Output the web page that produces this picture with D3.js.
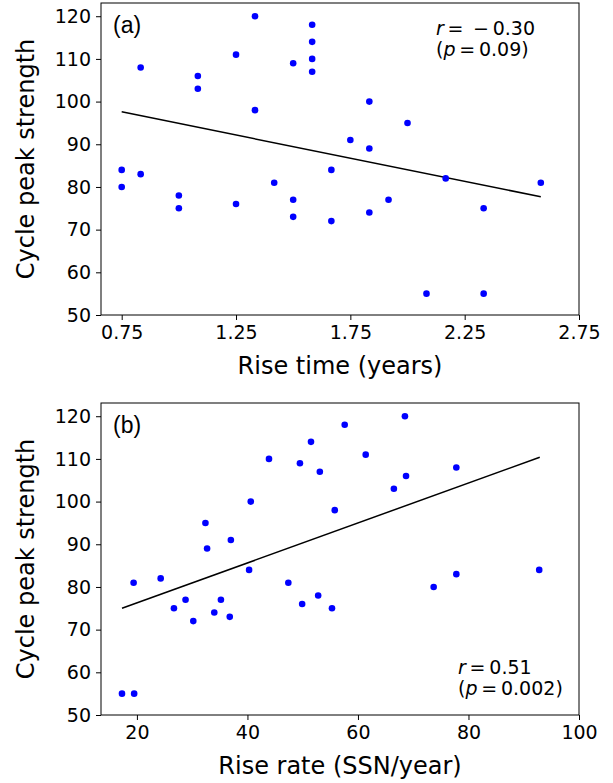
<!DOCTYPE html>
<html>
<head>
<meta charset="utf-8">
<script src="https://cdn.jsdelivr.net/npm/d3@7"></script>
<style>
 body { margin: 0; background: #fff; }
 text { font-family: "DejaVu Sans", sans-serif; fill: #000; }
</style>
</head>
<body>
<div id="chart"></div>
<script>
// panel (a): rise time vs cycle peak
var riseTime = [0.75, 0.75, 0.833, 0.833, 1.0, 1.0, 1.083, 1.083, 1.25, 1.25, 1.333, 1.333, 1.417,
  1.5, 1.5, 1.5, 1.583, 1.583, 1.583, 1.583, 1.667, 1.667, 1.75, 1.833, 1.833, 1.833,
  1.917, 2.0, 2.083, 2.167, 2.333, 2.333, 2.583];
var peakA = [84, 80, 108, 83, 78, 75, 106, 103, 111, 76, 120, 98, 81,
  109, 77, 73, 118, 114, 110, 107, 84, 72, 91, 100, 89, 74,
  77, 95, 55, 82, 75, 55, 81];
var fitA_x = [0.75, 2.583];
var fitA_y = [97.6, 77.7];

// panel (b): rise rate vs cycle peak
var riseRate = [17.3, 19.5, 19.4, 24.3, 26.7, 28.8, 30.2, 32.4, 32.7, 34.0, 35.2, 36.8, 37.0,
  40.3, 40.6, 43.9, 47.4, 49.5, 49.9, 51.5, 52.8, 53.1, 55.3, 55.8, 57.6,
  61.4, 66.5, 68.5, 68.7, 77.8, 77.8, 73.7, 92.8];
var peakB = [55, 55, 81, 82, 75, 77, 72, 95, 89, 74, 77, 73, 91,
  84, 100, 110, 81, 109, 76, 114, 78, 107, 75, 98, 118,
  111, 103, 120, 106, 108, 83, 80, 84];
var fitB_x = [17.3, 92.9];
var fitB_y = [75.0, 110.4];

var yTicks = [50, 60, 70, 80, 90, 100, 110, 120];
var xTicksA = [0.75, 1.25, 1.75, 2.25, 2.75];
var xTicksB = [20, 40, 60, 80, 100];

var W = 613, H = 783;
var left = 101, right = 579, plotH = 312;

var svg = d3.select("#chart").append("svg")
  .attr("width", W).attr("height", H);

function panel(top, xs, ys, fx, fy, xDomain, xTicks, xFmt, xLabel, tag, stats, statsY) {
  var x = d3.scaleLinear().domain(xDomain).range([left, right]);
  var y = d3.scaleLinear().domain([50, 123.1]).range([top + plotH, top]);
  var g = svg.append("g");

  var xa = g.append("g").attr("transform", "translate(0," + (top + plotH) + ")")
    .call(d3.axisBottom(x).tickValues(xTicks).tickFormat(xFmt).tickSizeOuter(0).tickSize(5).tickPadding(6));
  var ya = g.append("g").attr("transform", "translate(" + left + ",0)")
    .call(d3.axisLeft(y).tickValues(yTicks).tickSizeOuter(0).tickSize(5).tickPadding(5));
  [xa, ya].forEach(function(a){
    a.selectAll("text").style("font-size", "19px").style("font-family", "DejaVu Sans");
    a.selectAll("line").attr("stroke", "#000").attr("stroke-width", 1);
    a.select(".domain").remove();
  });

  // frame
  g.append("rect").attr("x", left).attr("y", top)
    .attr("width", right - left).attr("height", plotH)
    .attr("fill", "none").attr("stroke", "#000").attr("stroke-width", 1);

  // fit line
  g.append("line")
    .attr("x1", x(fx[0])).attr("y1", y(fy[0]))
    .attr("x2", x(fx[1])).attr("y2", y(fy[1]))
    .attr("stroke", "#000").attr("stroke-width", 1.5);

  g.selectAll("circle.pt").data(xs).enter().append("circle")
    .attr("class", "pt")
    .attr("cx", function(d){ return x(d); })
    .attr("cy", function(d, i){ return y(ys[i]); })
    .attr("r", 3.3)
    .attr("fill", "#0000ff");

  g.append("text").attr("x", 113).attr("y", top + 30)
    .style("font-family", "Liberation Sans, Arial, sans-serif")
    .style("font-size", "23px").text(tag);

  // stats text
  var t1 = g.append("text").attr("x", stats.x).attr("y", statsY[0]).style("font-size", "19px");
  t1.append("tspan").style("font-style", "italic").text("r");
  t1.append("tspan").text(stats.r);
  var t2 = g.append("text").attr("x", stats.x).attr("y", statsY[1]).style("font-size", "19px");
  t2.append("tspan").text("(");
  t2.append("tspan").style("font-style", "italic").text("p");
  t2.append("tspan").text(stats.p);

  g.append("text").attr("x", (left + right) / 2).attr("y", top + plotH + 59)
    .attr("text-anchor", "middle").style("font-size", "24px").text(xLabel);
  g.append("text")
    .attr("transform", "translate(34," + (top + plotH / 2) + ") rotate(-90)")
    .attr("text-anchor", "middle").style("font-size", "24px").text("Cycle peak strength");
}

panel(3, riseTime, peakA, fitA_x, fitA_y, [0.6595, 2.75], xTicksA, d3.format(".2f"),
  "Rise time (years)", "(a)", {x: 436, r: "\u2009=\u2002\u2212\u20090.30", p: "\u2009=\u20090.09)"}, [35, 56]);
panel(403, riseRate, peakB, fitB_x, fitB_y, [13.5, 100], xTicksB, d3.format("d"),
  "Rise rate (SSN/year)", "(b)", {x: 458, r: "\u2009=\u20090.51", p: "\u2009=\u20090.002)"}, [674, 695]);
</script>
</body>
</html>
